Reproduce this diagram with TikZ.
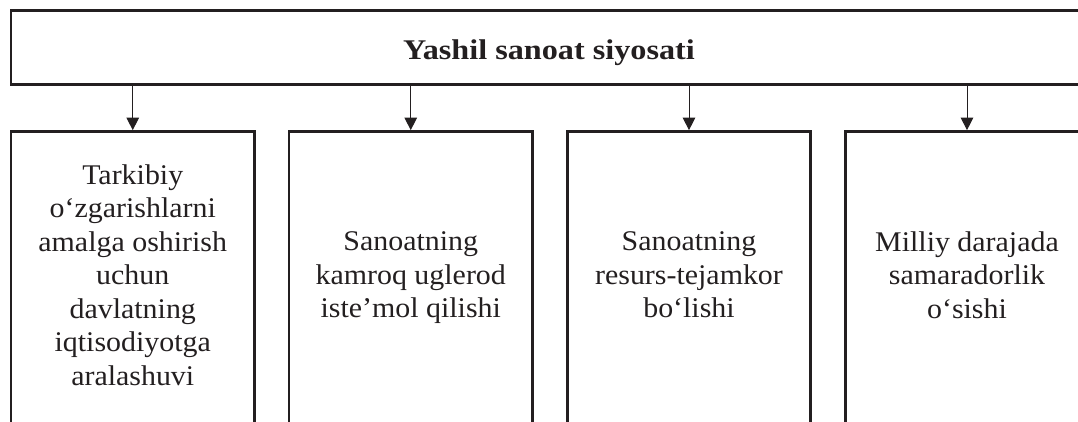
\documentclass[tikz,border=0pt]{standalone}
\usepackage{fontspec}
\setmainfont{Liberation Serif}
\newfontfamily\bodyfont{Liberation Serif}[FakeStretch=1.05]
\newfontfamily\headfont{Liberation Serif}[FakeStretch=1.13]
\usetikzlibrary{arrows.meta}
\definecolor{ink}{HTML}{231F20}
\tikzset{
  frame/.style={draw=ink, line width=2.7pt, inner sep=0pt, rectangle},
  conn/.style={draw=ink, line width=1pt, -{Triangle[width=12.5pt,length=12.5pt]}},
  body/.style={font=\bodyfont\fontsize{28.5}{33.5}\selectfont, align=center, text=ink, inner sep=0pt},
  head/.style={font=\headfont\fontsize{28.5}{33}\selectfont\bfseries, text=ink, inner sep=0pt},
}
\begin{document}
\begin{tikzpicture}[x=1pt,y=-1pt]
\useasboundingbox (0,0) rectangle (1078,421);
\clip (0,0) rectangle (1078,421);
\node[frame, minimum width=1079pt, minimum height=74pt] (top) at (550.5,47.5) {};
\node[head, anchor=base] (title) at (549,59.3) {Yashil sanoat siyosati};
\node[frame, minimum width=243.5pt, minimum height=328.5pt] (b1) at (132.75,295.75) {};
\node[frame, minimum width=243.5pt, minimum height=328.5pt] (b2) at (410.75,295.75) {};
\node[frame, minimum width=243.5pt, minimum height=328.5pt] (b3) at (689,295.75) {};
\node[frame, minimum width=243.5pt, minimum height=328.5pt] (b4) at (967,295.75) {};
\node[body] (t1) at (132.75,274.8) {Tarkibiy\\o‘zgarishlarni\\amalga oshirish\\uchun\\davlatning\\iqtisodiyotga\\aralashuvi};
\node[body] (t2) at (410.75,278) {Sanoatning\\kamroq uglerod\\iste’mol qilishi};
\node[body] (t3) at (689,275) {Sanoatning\\resurs-tejamkor\\bo‘lishi};
\node[body] (t4) at (967,275) {Milliy darajada\\samaradorlik\\o‘sishi};
\foreach \b in {b1,b2,b3,b4}{
  \draw[conn] (top.south -| \b.north) -- (\b.north);
}
\end{tikzpicture}
\end{document}
